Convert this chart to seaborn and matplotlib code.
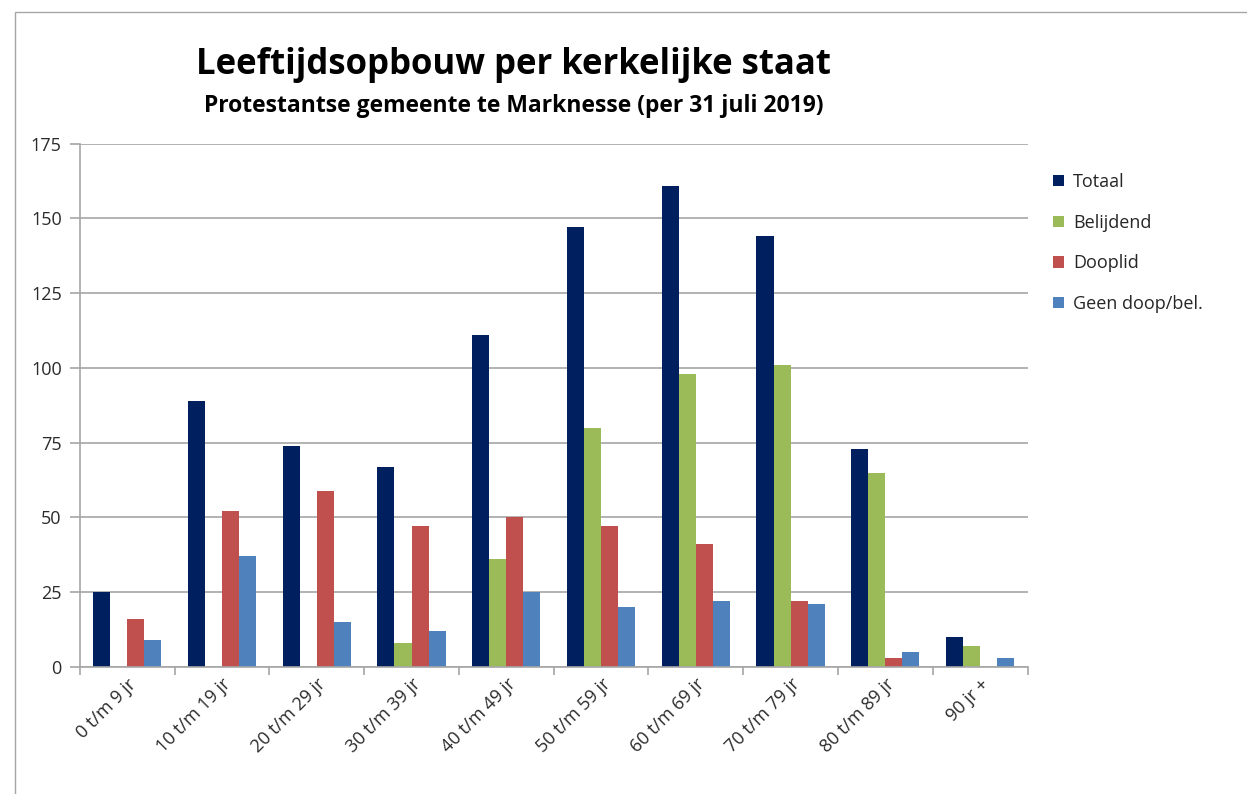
#!/usr/bin/env python3
"""
Leeftijdsopbouw per kerkelijke staat - Protestantse gemeente te Marknesse.
"""

import matplotlib.pyplot as plt
import pandas as pd
import seaborn as sns
from matplotlib.patches import Rectangle

age_groups = [
    "0 t/m 9 jr", "10 t/m 19 jr", "20 t/m 29 jr", "30 t/m 39 jr",
    "40 t/m 49 jr", "50 t/m 59 jr", "60 t/m 69 jr", "70 t/m 79 jr",
    "80 t/m 89 jr", "90 jr +",
]
totaal = [25, 89, 74, 67, 111, 147, 161, 144, 73, 10]
belijdend = [0, 0, 0, 8, 36, 80, 98, 101, 65, 7]
dooplid = [16, 52, 59, 47, 50, 47, 41, 22, 3, 0]
geen = [9, 37, 15, 12, 25, 20, 22, 21, 5, 3]

series_names = ["Totaal", "Belijdend", "Dooplid", "Geen doop/bel."]
series_colors = ["#001F5F", "#9BBB59", "#C0504D", "#4F81BD"]


def build_frame() -> pd.DataFrame:
    rows = []
    for name, values in zip(series_names, [totaal, belijdend, dooplid, geen]):
        for group, value in zip(age_groups, values):
            rows.append({"leeftijd": group, "staat": name, "aantal": value})
    return pd.DataFrame(rows)


def main() -> None:
    df = build_frame()

    sns.set_theme(style="white")
    plt.rcParams["font.family"] = ["Open Sans", "DejaVu Sans"]

    fig = plt.figure(figsize=(12.47, 7.94), dpi=100)
    ax = fig.add_axes([0.064, 0.160, 0.760, 0.659])

    sns.barplot(
        ax=ax,
        data=df,
        x="leeftijd",
        y="aantal",
        hue="staat",
        order=age_groups,
        hue_order=series_names,
        palette=series_colors,
        width=0.72,
        gap=0,
        saturation=1,
        linewidth=0,
        legend=True,
    )

    ax.set_ylim(0, 175)
    ax.set_xlim(-0.5, len(age_groups) - 0.5)
    ax.set_yticks(range(0, 176, 25))
    ax.yaxis.grid(True, color="#A6A6A6", linewidth=1.2)
    ax.set_axisbelow(True)
    ax.set_xlabel("")
    ax.set_ylabel("")

    for side in ["top", "right"]:
        ax.spines[side].set_visible(False)
    for side in ["left", "bottom"]:
        ax.spines[side].set_color("#A6A6A6")
        ax.spines[side].set_linewidth(1.2)

    # category boundary ticks on the x axis
    ax.set_xticks([i - 0.5 for i in range(len(age_groups) + 1)], minor=True)
    ax.tick_params(axis="x", which="minor", length=6, color="#A6A6A6", width=1.2, direction="out")
    ax.tick_params(axis="x", which="major", length=0, pad=6)
    ax.tick_params(axis="y", length=7, color="#A6A6A6", width=1.2, direction="out", pad=6)
    ax.xaxis.set_ticks_position("bottom")
    ax.yaxis.set_ticks_position("left")

    ax.set_xticks(range(len(age_groups)))
    ax.set_xticklabels(age_groups, rotation=45, ha="right", rotation_mode="anchor",
                       fontsize=13, color="#2B2B2B")
    for label in ax.get_yticklabels():
        label.set_fontsize(13)
        label.set_color("#2B2B2B")

    handles, labels = ax.get_legend_handles_labels()
    ax.legend(
        handles=handles,
        labels=labels,
        loc="upper left",
        bbox_to_anchor=(1.01, 0.975),
        frameon=False,
        fontsize=13,
        handlelength=0.6,
        handleheight=0.6,
        handletextpad=0.5,
        labelspacing=1.25,
    )

    fig.text(0.412, 0.918, "Leeftijdsopbouw per kerkelijke staat",
             ha="center", va="center", fontsize=25, fontweight="bold", color="black")
    fig.text(0.412, 0.867, "Protestantse gemeente te Marknesse (per 31 juli 2019)",
             ha="center", va="center", fontsize=16.5, fontweight="bold", color="black")

    fig.add_artist(Rectangle((0.012, -0.01), 0.99, 0.995, transform=fig.transFigure,
                             fill=False, edgecolor="#A6A6A6", linewidth=1.0))

    fig.savefig("out.png", dpi=100)


if __name__ == "__main__":
    main()
